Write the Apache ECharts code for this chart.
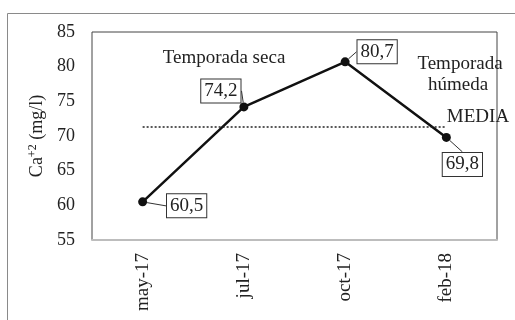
<!DOCTYPE html>
<html>
<head>
<meta charset="utf-8">
<script src="https://cdn.jsdelivr.net/npm/echarts@6/dist/echarts.min.js"></script>
<style>html,body{margin:0;padding:0;background:#fff}#c{width:515px;height:320px}</style>
</head>
<body>
<div id="c"></div>
<script>
const categories = ['may-17', 'jul-17', 'oct-17', 'feb-18'];
const calcium = [60.5, 74.2, 80.7, 69.8];
const yTicks = [55, 60, 65, 70, 75, 80, 85];
const labelOffsets = [[44, 4], [-23, -16], [32, -10], [16, 27]];

const mean = calcium.reduce((a, b) => a + b, 0) / calcium.length;
const FONT = '"Liberation Serif", "Times New Roman", serif';
const fmt = v => v.toFixed(1).replace('.', ',');

const chart = echarts.init(document.getElementById('c'), null, {renderer: 'canvas'});
chart.setOption({
  animation: false,
  backgroundColor: '#fff',
  grid: {left: 92, top: 32, right: 18, bottom: 80, show: true, borderColor: '#444', borderWidth: 1},
  xAxis: {
    type: 'category', data: categories, boundaryGap: true,
    axisLine: {show: true, lineStyle: {color: '#bdbdbd', width: 2}},
    axisTick: {show: false},
    axisLabel: {rotate: 90, margin: 13, fontFamily: FONT, fontSize: 19, color: '#222'}
  },
  yAxis: {
    type: 'value', min: yTicks[0], max: yTicks[yTicks.length - 1], interval: 5,
    axisLine: {show: false}, axisTick: {show: false}, splitLine: {show: false},
    axisLabel: {margin: 17, fontFamily: FONT, fontSize: 18, color: '#222'},
    name: 'Ca{sup|+2} (mg/l)', nameLocation: 'middle', nameGap: 44,
    nameTextStyle: {fontFamily: FONT, fontSize: 18, color: '#222',
      rich: {sup: {fontFamily: FONT, fontSize: 12, color: '#222', verticalAlign: 'top', padding: [0, 0, 8, 0]}}}
  },
  series: [{
    type: 'line', data: calcium,
    lineStyle: {color: '#111', width: 2.5},
    itemStyle: {color: '#111'},
    symbol: 'circle', symbolSize: 9,
    label: {
      show: true, position: 'inside', formatter: p => fmt(p.value),
      fontFamily: FONT, fontSize: 19, color: '#222',
      backgroundColor: '#fff', borderColor: '#333', borderWidth: 1, padding: [3, 3, 1, 3]
    },
    labelLayout: p => ({dx: labelOffsets[p.dataIndex][0], dy: labelOffsets[p.dataIndex][1]}),
    labelLine: {show: true, lineStyle: {color: '#333', width: 1}},
    markLine: {
      silent: true, symbol: ['none', 'none'],
      lineStyle: {type: [2, 2], color: '#222', width: 1.5},
      label: {show: false},
      data: [[{coord: [0, mean]}, {coord: [categories.length - 1, mean]}]]
    }
  }],
  graphic: [
    {type: 'rect', shape: {x: 7.5, y: 13.5, width: 600, height: 400}, style: {fill: 'none', stroke: '#8a8a8a', lineWidth: 1}, silent: true},
    {type: 'text', x: 224, y: 58, style: {text: 'Temporada seca', font: '19px ' + FONT, fill: '#222', textAlign: 'center', textVerticalAlign: 'middle'}},
    {type: 'text', x: 460, y: 64, style: {text: 'Temporada', font: '19px ' + FONT, fill: '#222', textAlign: 'center', textVerticalAlign: 'middle'}},
    {type: 'text', x: 458, y: 85, style: {text: 'húmeda', font: '19px ' + FONT, fill: '#222', textAlign: 'center', textVerticalAlign: 'middle'}},
    {type: 'text', x: 478, y: 117, style: {text: 'MEDIA', font: '19px ' + FONT, fill: '#222', textAlign: 'center', textVerticalAlign: 'middle'}}
  ]
});
</script>
</body>
</html>
